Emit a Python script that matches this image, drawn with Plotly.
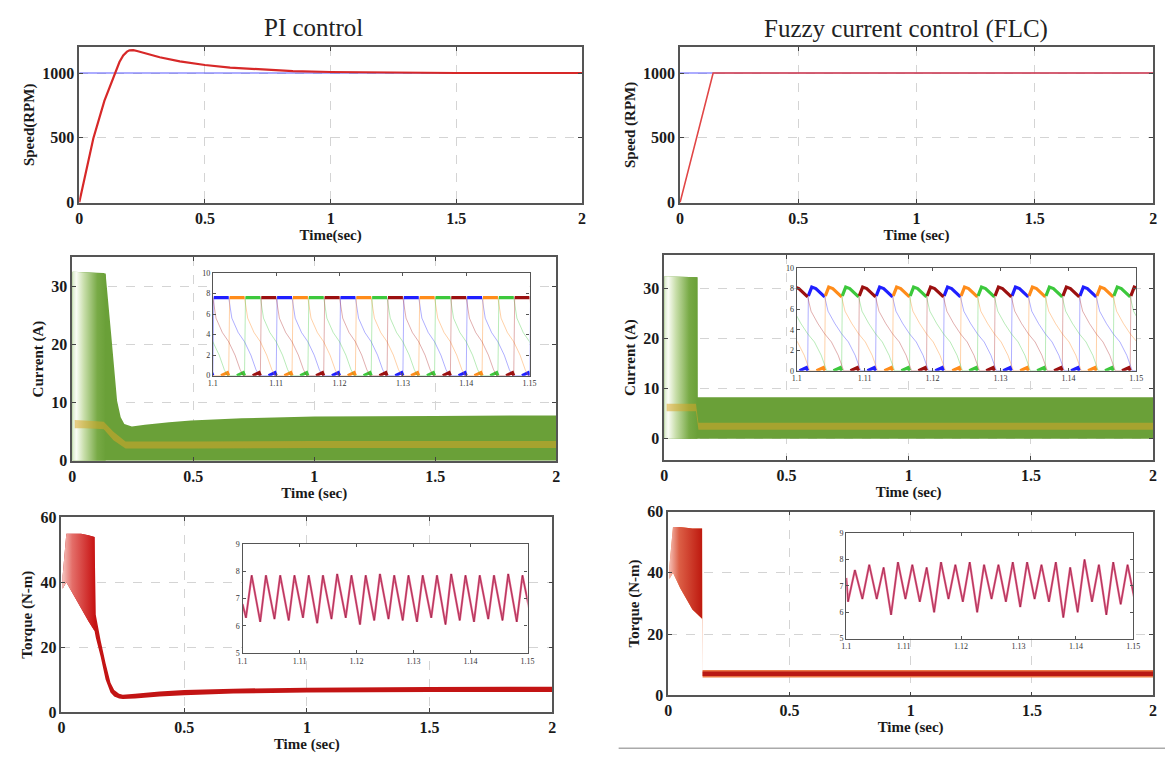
import plotly.graph_objects as go

W, H = 1172, 765

# ---------------- data ----------------
# Speed, PI
spd_pi_t = [0, 0.028, 0.056, 0.1, 0.142, 0.16, 0.175, 0.19, 0.2, 0.215, 0.23, 0.27, 0.32, 0.4, 0.5, 0.6, 0.74, 0.85, 1.0, 1.2, 1.5, 2.0]
spd_pi_v = [0, 255, 495, 785, 1000, 1085, 1135, 1165, 1175, 1176, 1170, 1150, 1122, 1090, 1062, 1042, 1025, 1015, 1008, 1003, 1000, 1000]
# Speed, FLC
spd_flc_t = [0, 0.07, 0.14, 2.0]
spd_flc_v = [0, 500, 1000, 1000]
spd_ref_t = [0, 2.0]
spd_ref_v = [1000, 1000]

# Current envelope, PI
cur_pi_t = [0.0, 0.13, 0.138, 0.16, 0.185, 0.2, 0.215, 0.246, 0.3, 0.4, 0.49, 0.7, 1.0, 1.5, 2.0]
cur_pi_up = [32.5, 32.3, 32.0, 22.0, 10.3, 7.5, 6.3, 5.9, 6.2, 6.6, 6.9, 7.3, 7.6, 7.7, 7.8]
cur_pi_st_t = [0.0, 0.138]
cur_pi_or_t = [0.01, 0.05, 0.1, 0.13, 0.17, 0.22, 0.5, 1.0, 1.5, 2.0]
cur_pi_or_lo = [5.6, 5.6, 5.5, 5.4, 3.5, 2.1, 2.1, 2.2, 2.2, 2.2]
cur_pi_or_hi = [7.0, 6.9, 6.8, 6.7, 5.0, 3.3, 3.3, 3.4, 3.4, 3.4]
# Current envelope, FLC
cur_flc_t = [0.0, 0.136, 0.137, 2.0]
cur_flc_up = [32.5, 32.3, 8.3, 8.3]
cur_flc_or_t = [0.01, 0.13, 0.14, 2.0]
cur_flc_or_lo = [5.5, 5.5, 1.8, 1.8]
cur_flc_or_hi = [7.0, 7.0, 3.2, 3.2]

# Torque envelope, PI
trq_pi_t = [0.005, 0.02, 0.05, 0.08, 0.11, 0.135, 0.14, 0.16, 0.18, 0.2, 0.215, 0.235, 0.25, 0.3, 0.4, 0.5, 0.7, 1.0, 1.5, 2.0]
trq_pi_up = [42, 55, 55, 55, 54.5, 54, 30, 22, 15, 9, 6.8, 5.6, 5.3, 5.6, 6.3, 6.8, 7.2, 7.5, 7.7, 7.8]
trq_pi_lo = [38, 40, 36, 32, 28, 25, 23, 17, 10, 6.0, 4.8, 4.2, 4.0, 4.2, 4.8, 5.2, 5.7, 6.0, 6.2, 6.2]
# Torque envelope, FLC
trq_flc_t = [0.005, 0.02, 0.05, 0.1, 0.14, 0.142, 2.0]
trq_flc_up = [42, 55, 55, 54.5, 54.5, 8.3, 8.3]
trq_flc_lo = [38, 40, 35, 28, 25, 5.8, 5.8]
trq_flc_in_t = [0.142, 2.0]
trq_flc_in_up = [7.8, 7.8]
trq_flc_in_lo = [6.3, 6.3]

# Inset: phase current pulse shapes (relative time, A)
pi_pulse_t = [0, 0.00015, 0.0025, 0.003, 0.004, 0.005, 0.006, 0.0068, 0.0073, 0.0088, 0.0094, 0.0098, 0.01]
pi_pulse_i = [0, 7.6, 7.6, 5.6, 4.2, 3.3, 2.0, 0.6, 0.0, 0.0, 0.15, 0.3, 0.0]
pi_top_pts = 2
pi_phase_start = [1.1, 1.1025, 1.105, 1.1075]
flc_pulse_t = [0, 0.0001, 0.0006, 0.0012, 0.0025, 0.003, 0.004, 0.005, 0.006, 0.007, 0.0078, 0.0088, 0.0094, 0.0098, 0.01]
flc_pulse_i = [0, 7.3, 8.15, 8.0, 7.2, 5.8, 4.6, 3.6, 2.8, 1.5, 0.0, 0.0, 0.15, 0.3, 0.0]
flc_top_pts = 4
flc_phase_start = [1.1016, 1.1041, 1.1066, 1.1091]
phase_colors = ["#1f1fff", "#ff8c1a", "#3cc83c", "#9b1010"]
phase_faint = ["rgba(60,60,255,0.45)", "rgba(255,140,40,0.45)", "rgba(60,200,60,0.4)", "rgba(170,30,30,0.4)"]
n_cycles = 6

# Inset: torque ripple per stroke (0.0025 s), values read per cycle
trq_pi_cyc_t0 = 1.1006
trq_pi_trough = [6.3, 6.15, 6.25, 6.2, 6.3, 6.1, 6.25, 6.3, 6.05, 6.2, 6.25, 6.2, 6.15, 6.3, 6.05, 6.2, 6.15, 6.25, 6.2, 6.15, 6.3]
trq_pi_peak = [7.85, 7.85, 7.85, 7.85, 7.85, 7.85, 7.9, 7.85, 7.85, 7.9, 7.85, 7.85, 7.85, 7.85, 7.9, 7.85, 7.85, 7.85, 7.9, 7.85]
trq_flc_cyc_t0 = 1.1003
trq_flc_trough = [6.4, 6.5, 6.5, 5.9, 6.5, 6.4, 6.0, 6.5, 6.4, 6.0, 6.5, 6.4, 6.2, 6.5, 6.4, 5.8, 6.0, 6.4, 5.9, 6.3, 6.4]
trq_flc_peak = [7.6, 7.8, 7.7, 7.9, 7.8, 7.7, 7.9, 7.8, 7.9, 7.8, 7.8, 7.9, 7.9, 7.8, 7.9, 7.7, 8.0, 7.8, 7.9, 7.8]
stroke = 0.0025

main_xticks = [0, 0.5, 1, 1.5, 2]
inset_xticks = [1.1, 1.11, 1.12, 1.13, 1.14, 1.15]
inset_xlabels = ["1.1", "1.11", "1.12", "1.13", "1.14", "1.15"]

# ---------------- figure ----------------
fig = go.Figure()
SERIF = "Liberation Serif"

def poly(t, up, lo):
    return list(t) + list(t)[::-1], list(up) + list(lo)[::-1]

GREEN = "rgb(106,160,56)"
GRAD_G = [[0, "rgb(215,232,200)"], [0.12, "rgb(250,252,245)"], [0.35, "rgb(200,222,170)"], [0.75, "rgb(120,170,70)"], [1, GREEN]]

# Speed PI
fig.add_trace(go.Scatter(x=spd_ref_t, y=spd_ref_v, mode="lines", line=dict(color="rgb(90,90,255)", width=1.2), xaxis="x", yaxis="y"))
fig.add_trace(go.Scatter(x=spd_pi_t, y=spd_pi_v, mode="lines", line=dict(color="rgb(215,40,40)", width=2.2), xaxis="x", yaxis="y"))
# Speed FLC
fig.add_trace(go.Scatter(x=spd_ref_t, y=spd_ref_v, mode="lines", line=dict(color="rgb(90,90,255)", width=1.2), xaxis="x2", yaxis="y2"))
fig.add_trace(go.Scatter(x=spd_flc_t, y=spd_flc_v, mode="lines", line=dict(color="rgb(225,70,70)", width=1.6), xaxis="x2", yaxis="y2"))

# Current PI
px, py = poly(cur_pi_t, cur_pi_up, [0] * len(cur_pi_t))
fig.add_trace(go.Scatter(x=px, y=py, fill="toself", fillcolor=GREEN, mode="none", xaxis="x3", yaxis="y3"))
sx, sy = poly(cur_pi_st_t, [32.5, 32.2], [0, 0])
fig.add_trace(go.Scatter(x=sx, y=sy, fill="toself", mode="none", xaxis="x3", yaxis="y3",
                         fillgradient=dict(type="horizontal", colorscale=GRAD_G)))
ox, oy = poly(cur_pi_or_t, cur_pi_or_hi, cur_pi_or_lo)
fig.add_trace(go.Scatter(x=ox, y=oy, fill="toself", fillcolor="rgba(215,165,40,0.55)", mode="none", xaxis="x3", yaxis="y3"))

# Current FLC
px, py = poly(cur_flc_t, cur_flc_up, [0] * len(cur_flc_t))
fig.add_trace(go.Scatter(x=px, y=py, fill="toself", fillcolor=GREEN, mode="none", xaxis="x4", yaxis="y4"))
sx, sy = poly([0.0, 0.136], [32.5, 32.3], [0, 0])
fig.add_trace(go.Scatter(x=sx, y=sy, fill="toself", mode="none", xaxis="x4", yaxis="y4",
                         fillgradient=dict(type="horizontal", colorscale=GRAD_G)))
ox, oy = poly(cur_flc_or_t, cur_flc_or_hi, cur_flc_or_lo)
fig.add_trace(go.Scatter(x=ox, y=oy, fill="toself", fillcolor="rgba(215,165,40,0.55)", mode="none", xaxis="x4", yaxis="y4"))

# Torque PI
tx, ty = poly(trq_pi_t, trq_pi_up, trq_pi_lo)
fig.add_trace(go.Scatter(x=tx, y=ty, fill="toself", fillcolor="rgb(195,20,20)", mode="none", xaxis="x5", yaxis="y5"))
sx, sy = poly(trq_pi_t[:6], trq_pi_up[:6], trq_pi_lo[:6])
fig.add_trace(go.Scatter(x=sx, y=sy, fill="toself", mode="none", xaxis="x5", yaxis="y5",
                         fillgradient=dict(type="horizontal", colorscale=[[0, "rgb(245,195,190)"], [0.3, "rgb(228,110,105)"], [1, "rgb(200,20,20)"]])))
# Torque FLC
tx, ty = poly(trq_flc_t, trq_flc_up, trq_flc_lo)
fig.add_trace(go.Scatter(x=tx, y=ty, fill="toself", fillcolor="rgb(235,120,70)", mode="none", xaxis="x6", yaxis="y6"))
sx, sy = poly(trq_flc_t[:5], trq_flc_up[:5], trq_flc_lo[:5])
fig.add_trace(go.Scatter(x=sx, y=sy, fill="toself", mode="none", xaxis="x6", yaxis="y6",
                         fillgradient=dict(type="horizontal", colorscale=[[0, "rgb(245,190,180)"], [0.3, "rgb(220,95,70)"], [1, "rgb(190,25,15)"]])))
ix, iy = poly(trq_flc_in_t, trq_flc_in_up, trq_flc_in_lo)
fig.add_trace(go.Scatter(x=ix, y=iy, fill="toself", fillcolor="rgb(185,25,20)", mode="none", xaxis="x6", yaxis="y6"))

# Inset phase currents
def add_phase_currents(starts, pt, pi_, ntop, xa, ya):
    for p, s0 in enumerate(starts):
        xs, ys, xt, yt = [], [], [], []
        for k in range(-1, n_cycles):
            s = s0 + k * 0.01
            xs += [s + d for d in pt]
            ys += list(pi_)
            xs.append(None); ys.append(None)
            # thick flat top (dwell period)
            xt += [s + d for d in pt[1:1 + ntop]] + [None]
            yt += list(pi_[1:1 + ntop]) + [None]
            # small bump at zero just before the next rise
            xt += [s + d for d in pt[-4:]] + [None]
            yt += list(pi_[-4:]) + [None]
        fig.add_trace(go.Scatter(x=xs, y=ys, mode="lines", line=dict(color=phase_faint[p], width=0.9), xaxis=xa, yaxis=ya))
        fig.add_trace(go.Scatter(x=xt, y=yt, mode="lines", line=dict(color=phase_colors[p], width=3.2), xaxis=xa, yaxis=ya))

add_phase_currents(pi_phase_start, pi_pulse_t, pi_pulse_i, pi_top_pts, "x7", "y7")
add_phase_currents(flc_phase_start, flc_pulse_t, flc_pulse_i, flc_top_pts, "x8", "y8")

# Inset torque ripple
def add_ripple(t0, troughs, peaks, rise, xa, ya, start_val):
    xs, ys = [1.1], [start_val]
    for k in range(len(peaks)):
        s = t0 + k * stroke
        xs += [s, s + rise]
        ys += [troughs[k], peaks[k]]
    xs.append(t0 + len(peaks) * stroke)
    ys.append(troughs[len(peaks)])
    fig.add_trace(go.Scatter(x=xs, y=ys, mode="lines", line=dict(color="rgba(225,60,110,0.8)", width=2.2), xaxis=xa, yaxis=ya))
    fig.add_trace(go.Scatter(x=xs, y=ys, mode="lines", line=dict(color="rgba(110,10,40,0.55)", width=0.9), xaxis=xa, yaxis=ya))

add_ripple(trq_pi_cyc_t0, trq_pi_trough, trq_pi_peak, 0.001, "x9", "y9", 6.8)
add_ripple(trq_flc_cyc_t0, trq_flc_trough, trq_flc_peak, 0.0012, "x10", "y10", 7.3)

# ---------------- axes ----------------
def xd(a, b):
    return [a / W, b / W]

def yd(top, bot):
    return [1 - bot / H, 1 - top / H]

tickfont = dict(family=SERIF, size=16, color="#1a1a1a", weight="bold")
titlefont = dict(family=SERIF, size=15, color="#1a1a1a", weight="bold")
common = dict(showline=True, mirror="allticks", linecolor="#555", linewidth=1.6, ticks="inside", ticklen=4,
              tickcolor="#444", zeroline=False, showgrid=True, gridcolor="#d4d4d4", griddash="dash", gridwidth=1)
inset_common = dict(showline=True, mirror="allticks", linecolor="#555", linewidth=1.2, ticks="inside", ticklen=3,
                    tickcolor="#555", zeroline=False, showgrid=False, tickfont=dict(family=SERIF, size=8, color="#333"))

main = {
    1: dict(xd=xd(75, 583), yd=yd(40, 199), yr=[0, 1200], yt=[0, 500, 1000], ytitle="Speed(RPM)", xtitle="Time(sec)"),
    2: dict(xd=xd(682, 1160), yd=yd(40, 199), yr=[0, 1200], yt=[0, 500, 1000], ytitle="Speed (RPM)", xtitle="Time (sec)"),
    3: dict(xd=xd(68, 557), yd=yd(255, 463), yr=[0, 35], yt=[0, 10, 20, 30], ytitle="Current (A)", xtitle="Time (sec)"),
    4: dict(xd=xd(666, 1160), yd=yd(253, 462), yr=[-4.2, 36.7], yt=[0, 10, 20, 30], ytitle="Current (A)", xtitle="Time (sec)"),
    5: dict(xd=xd(57, 553), yd=yd(521, 720), yr=[0, 60], yt=[0, 20, 40, 60], ytitle="Torque (N-m)", xtitle="Time (sec)"),
    6: dict(xd=xd(670, 1160), yd=yd(515, 703), yr=[0, 60], yt=[0, 20, 40, 60], ytitle="Torque (N-m)", xtitle="Time (sec)"),
}
lay = {}
for i, m in main.items():
    sfx = "" if i == 1 else str(i)
    lay["xaxis" + sfx] = dict(domain=m["xd"], range=[0, 2], tickvals=main_xticks, anchor="y" + sfx, tickfont=tickfont,
                              title=dict(text=m["xtitle"], font=titlefont, standoff=2), **common)
    lay["yaxis" + sfx] = dict(domain=m["yd"], range=m["yr"], tickvals=m["yt"], anchor="x" + sfx, tickfont=tickfont,
                              title=dict(text=m["ytitle"], font=titlefont, standoff=4), **common)

insets = {
    7: dict(xd=xd(210, 530), yd=yd(271, 376), yr=[0, 10], yt=[0, 2, 4, 6, 8, 10]),
    8: dict(xd=xd(800, 1143), yd=yd(266, 371), yr=[0, 10], yt=[0, 2, 4, 6, 8, 10]),
    9: dict(xd=xd(240, 528), yd=yd(548, 660), yr=[5, 9], yt=[5, 6, 7, 8, 9]),
    10: dict(xd=xd(850, 1140), yd=yd(537, 645), yr=[5, 9], yt=[5, 6, 7, 8, 9]),
}
for i, m in insets.items():
    s = str(i)
    lay["xaxis" + s] = dict(domain=m["xd"], range=[1.1, 1.15], tickvals=inset_xticks, ticktext=inset_xlabels,
                            anchor="y" + s, **inset_common)
    lay["yaxis" + s] = dict(domain=m["yd"], range=m["yr"], tickvals=m["yt"], anchor="x" + s, **inset_common)

fig.update_layout(**lay)
fig.update_layout(
    width=W, height=H, margin=dict(l=0, r=0, t=0, b=0), showlegend=False,
    paper_bgcolor="white", plot_bgcolor="white",
    annotations=[
        dict(text="PI control", x=312 / W, y=1 - 20 / H, xref="paper", yref="paper", showarrow=False,
             xanchor="center", yanchor="middle", font=dict(family=SERIF, size=25, color="#222")),
        dict(text="Fuzzy current control (FLC)", x=910 / W, y=1 - 21 / H, xref="paper", yref="paper", showarrow=False,
             xanchor="center", yanchor="middle", font=dict(family=SERIF, size=25, color="#222")),
    ],
    shapes=[dict(type="line", xref="paper", yref="paper", x0=620 / W, x1=1, y0=1 - 757 / H, y1=1 - 757 / H,
                 line=dict(color="#aaa", width=1.5))],
)

fig.write_html("out.html")
